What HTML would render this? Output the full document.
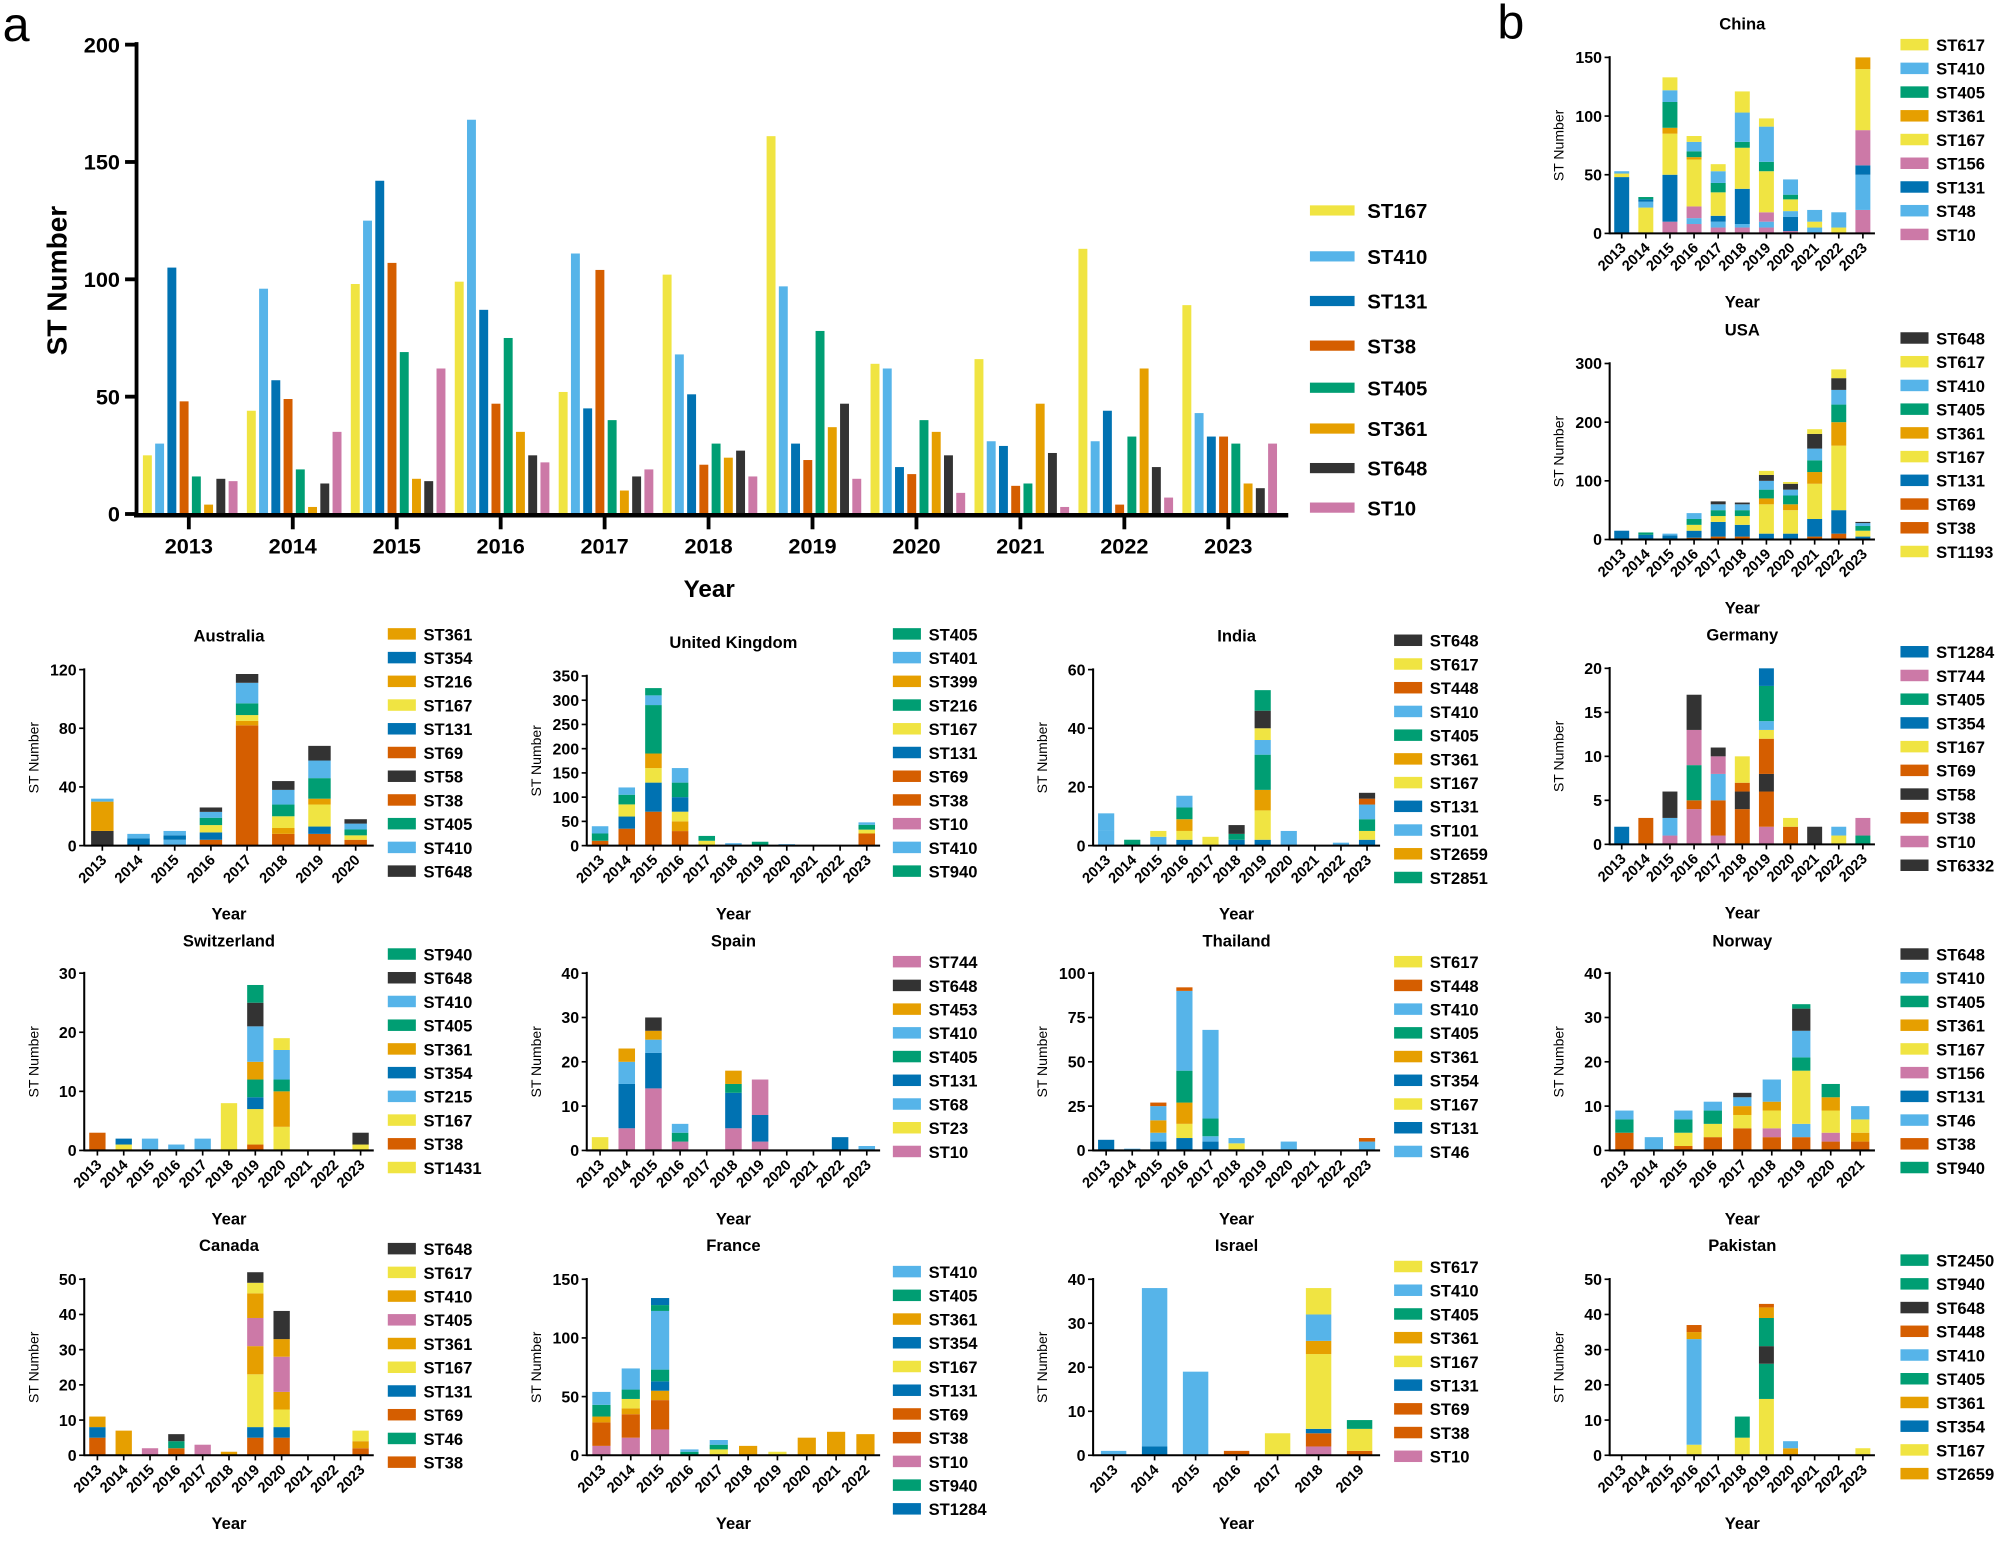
<!DOCTYPE html>
<html><head><meta charset="utf-8"><style>
html,body{margin:0;padding:0;background:#fff}
svg{display:block;font-family:"Liberation Sans",Arial,sans-serif}
</style></head><body>
<svg id="s" width="2000" height="1542" viewBox="0 0 1568 1209" xmlns="http://www.w3.org/2000/svg">
<rect width="1568" height="1209" fill="#fff"/>
<text x="2" y="32" font-size="38">a</text>
<text x="1174" y="30" font-size="38">b</text>
</svg>
<script>
var C={Y:"#F0E442",L:"#56B4E9",B:"#0072B2",V:"#D55E00",G:"#009E73",O:"#E69F00",K:"#333333",P:"#CC79A7"};
var s=document.getElementById("s"),h="";
function R(x,y,w,hh,c){h+='<rect x="'+x.toFixed(2)+'" y="'+y.toFixed(2)+'" width="'+w.toFixed(2)+'" height="'+Math.max(0,hh).toFixed(2)+'" fill="'+c+'"/>';}
function T(x,y,t,o){o=o||{};h+='<text x="'+x+'" y="'+y+'" font-size="'+(o.fs||12)+'" font-weight="'+(o.fw||'bold')+'" text-anchor="'+(o.a||'start')+'"'+(o.tr?' transform="'+o.tr+'"':'')+'>'+t+'</text>';}
function L(x1,y1,x2,y2,w){h+='<line x1="'+x1+'" y1="'+y1+'" x2="'+x2+'" y2="'+y2+'" stroke="#000" stroke-width="'+(w||1.5)+'"/>';}
var md=[[25,30,105,48,16,4,15,14],[44,96,57,49,19,3,13,35],[98,125,142,107,69,15,14,62],[99,168,87,47,75,35,25,22],[52,111,45,104,40,10,16,19],[102,68,51,21,30,24,27,16],[161,97,30,23,78,37,47,15],[64,62,20,17,40,35,25,9],[66,31,29,12,13,47,26,3],[113,31,44,4,33,62,20,7],[89,43,33,33,30,13,11,30]];
var mc=["Y","L","B","V","G","O","K","P"],mn=["ST167","ST410","ST131","ST38","ST405","ST361","ST648","ST10"];
var y0=403,k=(403-35)/200;
for(var i=0;i<11;i++){var cx=148+i*81.5;for(var j=0;j<8;j++){var v=md[i][j];R(cx-36+j*9.6,y0-v*k,7,v*k,C[mc[j]]);}
L(cx,y0,cx,y0+12,3);T(cx,434,2013+i,{fs:17,a:"middle"});}
L(107,33,107,405,3);L(105,y0+1,1010,y0+1,3.5);
for(var t=0;t<=200;t+=50){var yy=y0-t*k;L(98,yy,107,yy,3);T(94,yy+6,t,{fs:17,a:"end"});}
T(556,468,"Year",{fs:19,a:"middle"});
T(52,220,"ST Number",{fs:22,a:"middle",tr:"rotate(-90 52 220)"});
var ly=[165,201,236,271,304,336,367,398];
for(var j=0;j<8;j++){R(1027,ly[j]-4,35,8,C[mc[j]]);T(1072,ly[j]+6,mn[j],{fs:16});}
function P(o){var n=o.d.length,w=o.r-o.ax,sl=w/n,bw=sl*0.62,kk=(o.bot-o.top)/o.max;
 T((o.ax+o.r)/2,o.bot-160+o.tOff,o.t,{fs:13,a:"middle"});
 for(var i=0;i<n;i++){var cx=o.ax+sl*(i+0.5),yb=o.bot;o.d[i].forEach(function(sg){R(cx-bw/2,yb-sg[1]*kk,bw,sg[1]*kk,C[sg[0]]);yb-=sg[1]*kk;});
  L(cx,o.bot,cx,o.bot+4,1.3);T(cx+4,o.bot+12,o.y0+i,{fs:11.5,a:"end",tr:"rotate(-45 "+(cx+4)+" "+(o.bot+12)+")"});}
 L(o.ax,o.top-1,o.ax,o.bot+0.7,1.6);L(o.ax,o.bot,o.r,o.bot,1.6);
 for(var t=0;t<=o.max;t+=o.st){var yy=o.bot-t*kk;L(o.ax-4,yy,o.ax,yy,1.3);T(o.ax-6,yy+4.5,t,{fs:12.5,a:"end"});}
 T((o.ax+o.r)/2,o.bot+58,"Year",{fs:13,a:"middle"});
 var yl=o.ax-36,ym=(o.top+o.bot)/2;T(yl,ym,"ST Number",{fs:11,fw:"normal",a:"middle",tr:"rotate(-90 "+yl+" "+ym+")"});
 for(var j=0;j<o.lg.length;j++){var y=o.ly+j*18.6;R(o.lx,y-4.5,22,9,C[o.lg[j][1]]);T(o.lx+28,y+5,o.lg[j][0],{fs:13});}
}
var cols=[[66,293,304],[460,690,700],[857,1082,1093],[1262,1470,1490]];
function mk(c,top,bot,max,st,y0,t,d,lg,lyy,tOff){var q=cols[c];P({ax:q[0],r:q[1],lx:q[2],top:top,bot:bot,max:max,st:st,y0:y0,t:t,d:d,lg:lg,ly:lyy,tOff:tOff||0});}
function G(s){return s.split(",").map(function(p){p=p.split(":");return [p[0],+p[1]];});}
mk(3,45,183,150,50,2013,"China",[G("B:48,Y:3,L:2"),G("Y:22,L:5,B:2,G:2"),G("P:10,B:40,Y:35,O:5,G:22,L:10,Y:11"),G("P:8,L:5,P:10,Y:40,O:2,G:5,L:8,Y:5"),G("P:5,L:5,B:5,Y:20,G:8,L:10,Y:6"),G("P:5,L:3,B:30,Y:35,G:5,L:25,Y:18"),G("P:5,L:5,P:8,Y:35,G:8,L:30,Y:7"),G("P:2,B:12,L:5,Y:10,G:4,L:13"),G("L:5,Y:5,L:10"),G("Y:5,L:13"),G("P:20,L:30,B:8,P:30,Y:52,O:10")],
[["ST617","Y"],["ST410","L"],["ST405","G"],["ST361","O"],["ST167","Y"],["ST156","P"],["ST131","B"],["ST48","L"],["ST10","P"]],35,0);
mk(3,285,423,300,100,2013,"USA",[G("B:15"),G("B:8,G:4"),G("B:7,L:3"),G("V:3,B:12,Y:10,G:10,L:10"),G("V:5,B:25,Y:10,G:10,L:10,K:5"),G("V:5,B:20,Y:15,G:10,L:10,K:3"),G("B:10,Y:50,O:10,G:15,L:15,K:10,Y:7"),G("B:10,Y:40,O:10,G:15,L:10,K:10,Y:3"),G("V:5,B:30,Y:60,O:20,G:20,L:20,K:25,Y:8"),G("V:10,B:40,Y:110,O:40,G:30,L:25,K:20,Y:15"),G("B:5,Y:10,G:8,L:5,K:2")],
[["ST648","K"],["ST617","Y"],["ST410","L"],["ST405","G"],["ST361","O"],["ST167","Y"],["ST131","B"],["ST69","V"],["ST38","V"],["ST1193","Y"]],265,0);
mk(0,525,663,120,40,2013,"Australia",[G("K:10,O:20,L:2"),G("B:5,L:3"),G("L:4,B:3,L:3"),G("V:4,B:5,Y:5,G:5,L:4,K:3"),G("V:82,O:3,Y:4,G:8,L:14,K:6"),G("V:8,O:4,Y:8,G:8,L:10,K:6"),G("V:8,B:5,Y:15,O:4,G:14,L:12,K:10"),G("V:4,Y:3,G:4,L:4,K:3")],
[["ST361","O"],["ST354","B"],["ST216","O"],["ST167","Y"],["ST131","B"],["ST69","V"],["ST58","K"],["ST38","V"],["ST405","G"],["ST410","L"],["ST648","K"]],497);
mk(1,530,663,350,50,2013,"United Kingdom",[G("V:10,G:15,L:15"),G("V:35,B:25,Y:25,G:20,L:15"),G("V:70,B:60,Y:30,O:30,G:100,L:20,G:15"),G("V:30,O:20,Y:20,B:30,G:30,L:30"),G("Y:10,G:10"),G("L:5"),G("G:8"),G("L:3"),[],[],G("V:25,Y:8,G:10,L:5")],
[["ST405","G"],["ST401","L"],["ST399","O"],["ST216","G"],["ST167","Y"],["ST131","B"],["ST69","V"],["ST38","V"],["ST10","P"],["ST410","L"],["ST940","G"]],497,5);
mk(2,525,663,60,20,2013,"India",[G("L:5,L:6"),G("G:2"),G("L:3,Y:2"),G("B:2,Y:3,O:4,G:4,L:4"),G("Y:3"),G("B:2,G:2,K:3"),G("B:2,Y:10,O:7,G:12,L:5,Y:4,K:6,G:7"),G("L:5"),[],G("L:1"),G("B:2,Y:3,G:4,L:5,V:2,K:2")],
[["ST648","K"],["ST617","Y"],["ST448","V"],["ST410","L"],["ST405","G"],["ST361","O"],["ST167","Y"],["ST131","B"],["ST101","L"],["ST2659","O"],["ST2851","G"]],502);
mk(3,524,662,20,5,2013,"Germany",[G("B:2"),G("V:3"),G("P:1,L:2,K:3"),G("P:4,V:1,G:4,P:4,K:4"),G("P:1,V:4,L:3,P:2,K:1"),G("V:4,K:2,V:1,Y:3"),G("P:2,V:4,K:2,V:4,Y:1,L:1,G:4,B:2"),G("V:2,Y:1"),G("K:2"),G("Y:1,L:1"),G("G:1,P:2")],
[["ST1284","B"],["ST744","P"],["ST405","G"],["ST354","B"],["ST167","Y"],["ST69","V"],["ST58","K"],["ST38","V"],["ST10","P"],["ST6332","K"]],511);
mk(0,763,902,30,10,2013,"Switzerland",[G("V:3"),G("Y:1,B:1"),G("L:2"),G("L:1"),G("L:2"),G("Y:8"),G("V:1,Y:6,B:2,G:3,O:3,L:6,K:4,G:3"),G("Y:4,O:6,G:2,L:5,Y:2"),[],[],G("Y:1,K:2")],
[["ST940","G"],["ST648","K"],["ST410","L"],["ST405","G"],["ST361","O"],["ST354","B"],["ST215","L"],["ST167","Y"],["ST38","V"],["ST1431","Y"]],748);
mk(1,763,902,40,10,2013,"Spain",[G("Y:3"),G("P:5,B:10,L:5,O:3"),G("P:14,B:8,L:3,O:2,K:3"),G("P:2,G:2,L:2"),[],G("P:5,B:8,G:2,O:3"),G("P:2,B:6,P:8"),[],[],G("B:3"),G("L:1")],
[["ST744","P"],["ST648","K"],["ST453","O"],["ST410","L"],["ST405","G"],["ST131","B"],["ST68","L"],["ST23","Y"],["ST10","P"]],754);
mk(2,763,902,100,25,2013,"Thailand",[G("B:6"),G("L:1"),G("B:5,L:5,O:7,L:8,V:2"),G("B:7,Y:8,O:12,G:18,L:45,V:2"),G("B:5,L:3,G:10,L:50"),G("Y:4,L:3"),[],G("L:5"),[],[],G("L:5,V:2")],
[["ST617","Y"],["ST448","V"],["ST410","L"],["ST405","G"],["ST361","O"],["ST354","B"],["ST167","Y"],["ST131","B"],["ST46","L"]],754);
mk(3,763,902,40,10,2013,"Norway",[G("V:4,G:3,L:2"),G("L:3"),G("V:1,Y:3,G:3,L:2"),G("V:3,Y:3,G:3,L:2"),G("V:5,Y:3,O:2,L:2,K:1"),G("V:3,P:2,Y:4,O:2,L:5"),G("V:3,L:3,Y:12,G:3,L:6,K:5,G:1"),G("V:2,P:2,Y:5,O:3,G:3"),G("V:2,O:2,Y:3,L:3")],
[["ST648","K"],["ST410","L"],["ST405","G"],["ST361","O"],["ST167","Y"],["ST156","P"],["ST131","B"],["ST46","L"],["ST38","V"],["ST940","G"]],748);
mk(0,1003,1141,50,10,2013,"Canada",[G("V:5,B:3,O:3"),G("O:7"),G("P:2"),G("V:2,G:2,K:2"),G("P:3"),G("O:1"),G("V:5,B:3,Y:15,O:8,P:8,O:7,Y:3,K:3"),G("V:5,B:3,Y:5,O:5,P:10,O:5,K:8"),[],[],G("V:2,O:2,Y:3")],
[["ST648","K"],["ST617","Y"],["ST410","O"],["ST405","P"],["ST361","O"],["ST167","Y"],["ST131","B"],["ST69","V"],["ST46","G"],["ST38","V"]],979);
mk(1,1003,1141,150,50,2013,"France",[G("P:8,V:20,O:5,G:10,L:11"),G("P:15,V:20,O:5,Y:8,G:8,L:18"),G("P:22,V:25,O:8,B:8,G:10,L:50,G:5,B:6"),G("G:3,L:2"),G("Y:5,G:4,L:4"),G("O:8"),G("Y:3"),G("O:15"),G("O:20"),G("O:18")],
[["ST410","L"],["ST405","G"],["ST361","O"],["ST354","B"],["ST167","Y"],["ST131","B"],["ST69","V"],["ST38","V"],["ST10","P"],["ST940","G"],["ST1284","B"]],997);
mk(2,1003,1141,40,10,2013,"Israel",[G("L:1"),G("B:2,L:36"),G("L:19"),G("V:1"),G("Y:5"),G("P:2,V:3,B:1,Y:17,O:3,L:6,Y:6"),G("V:1,Y:5,G:2")],
[["ST617","Y"],["ST410","L"],["ST405","G"],["ST361","O"],["ST167","Y"],["ST131","B"],["ST69","V"],["ST38","V"],["ST10","P"]],993);
mk(3,1003,1141,50,10,2013,"Pakistan",[[],[],[],G("Y:3,L:10,L:20,O:2,V:2"),[],G("Y:5,G:6"),G("Y:16,G:10,K:5,G:8,O:3,V:1"),G("O:2,L:2"),[],[],G("Y:2")],
[["ST2450","G"],["ST940","G"],["ST648","K"],["ST448","V"],["ST410","L"],["ST405","G"],["ST361","O"],["ST354","B"],["ST167","Y"],["ST2659","O"]],988);
s.insertAdjacentHTML("beforeend",h);
</script>
</body></html>
